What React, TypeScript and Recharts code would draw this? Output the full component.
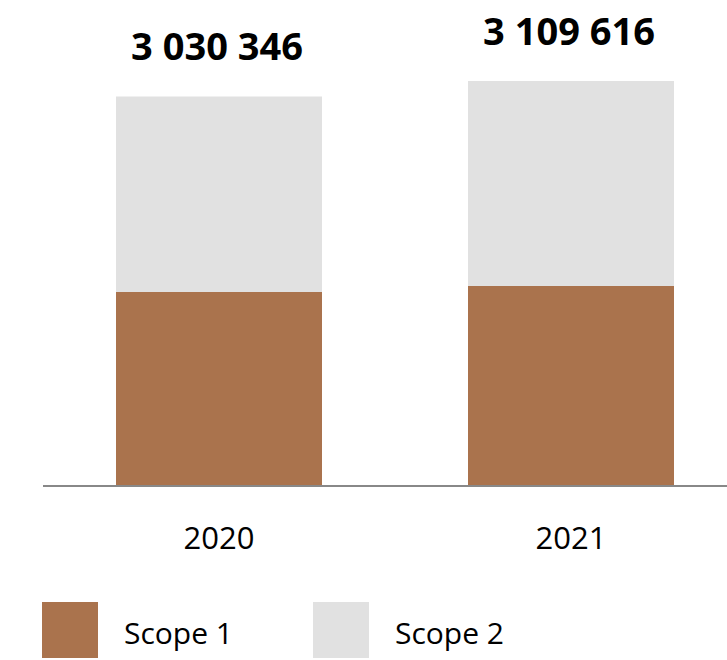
import { BarChart, Bar, XAxis, YAxis, LabelList } from "recharts";

const years = ["2020", "2021"];
const scope1 = [1509000, 1556000];
const scope2 = [1521346, 1594000];
const totalLabels = ["3 030 346", "3 109 616"];

const FONT = "'Open Sans', sans-serif";
const BROWN = "#AA734D";
const GREY = "#E1E1E1";

const data = years.map((year, i) => ({
  year,
  scope1: scope1[i],
  scope2: scope2[i],
  total: totalLabels[i],
}));

const TotalLabel = (props: any) => {
  const { x, y, width, index } = props;
  return (
    <text
      x={x + width / 2 - 2}
      y={y - 36}
      textAnchor="middle"
      fontFamily={FONT}
      fontWeight={700}
      fontSize={38}
      fill="#000"
    >
      {totalLabels[index]}
    </text>
  );
};

const legendItems = [
  { name: "Scope 1", color: BROWN, left: 42 },
  { name: "Scope 2", color: GREY, left: 313 },
];

export default function App() {
  return (
    <div
      style={{
        position: "absolute",
        left: 0,
        top: 0,
        width: 727,
        height: 660,
        overflow: "hidden",
        background: "#fff",
        fontFamily: FONT,
      }}
    >
      <BarChart
        width={760}
        height={600}
        data={data}
        margin={{ top: 36, right: 13, bottom: 24, left: 43 }}
      >
        <YAxis hide domain={[0, 3500000]} />
        <XAxis
          dataKey="year"
          height={90}
          tickLine={false}
          tickSize={6}
          tickMargin={35}
          axisLine={{ stroke: "#888888", strokeWidth: 2 }}
          tick={{ fontSize: 31, fill: "#000", fontFamily: FONT }}
        />
        <Bar dataKey="scope1" stackId="a" fill={BROWN} barSize={206} isAnimationActive={false} />
        <Bar dataKey="scope2" stackId="a" fill={GREY} barSize={206} isAnimationActive={false}>
          <LabelList dataKey="total" content={<TotalLabel />} />
        </Bar>
      </BarChart>
      {legendItems.map((item) => (
        <div key={item.name}>
          <div
            style={{
              position: "absolute",
              left: item.left,
              top: 602,
              width: 56,
              height: 56,
              background: item.color,
            }}
          />
          <div
            style={{
              position: "absolute",
              left: item.left + 82,
              top: 611,
              fontSize: 30,
              lineHeight: "44px",
              color: "#000",
              whiteSpace: "nowrap",
            }}
          >
            {item.name}
          </div>
        </div>
      ))}
    </div>
  );
}
